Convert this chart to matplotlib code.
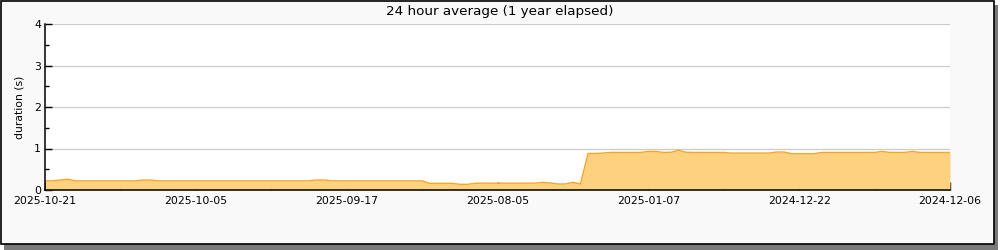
import matplotlib
matplotlib.use("Agg")
import matplotlib.pyplot as plt
from matplotlib.patches import Rectangle
from matplotlib.ticker import MultipleLocator, FixedLocator, FixedFormatter

title = "24 hour average (1 year elapsed)"
ylabel = "duration (s)"

tick_labels = ["2025-10-21", "2025-10-05", "2025-09-17", "2025-08-05",
               "2025-01-07", "2024-12-22", "2024-12-06"]

values = (
    [0.22, 0.22, 0.24, 0.26, 0.22] + [0.22] * 8 + [0.24, 0.24] + [0.22] * 21 +
    [0.24, 0.24] + [0.22] * 13 +
    [0.16, 0.16, 0.16, 0.16, 0.137, 0.137, 0.16] + [0.165] * 8 +
    [0.185, 0.17, 0.145, 0.145, 0.185, 0.145] +
    [0.88, 0.88, 0.89] + [0.905] * 5 + [0.93, 0.93, 0.905, 0.91, 0.955, 0.91] +
    [0.905] * 5 + [0.89] * 6 + [0.915, 0.915] + [0.875] * 4 + [0.905] * 8 +
    [0.93, 0.905, 0.905, 0.905, 0.93] + [0.905] * 5
)
x = list(range(len(values)))
n = len(values) - 1

fig = plt.figure(figsize=(10, 2.5), dpi=100)
fig.patch.set_facecolor("white")
# shadow and frame
fig.patches.append(Rectangle((4 / 1000, 0), 994 / 1000, 1 - 5 / 250,
                             transform=fig.transFigure, facecolor="#7a7a7a",
                             edgecolor="none", zorder=-3))
fig.patches.append(Rectangle((0.5 / 1000, 6 / 250), 993.5 / 1000, 1 - 6.5 / 250,
                             transform=fig.transFigure, facecolor="#f9f9f9",
                             edgecolor="black", linewidth=1.2, zorder=-2))

ax = fig.add_axes([0.045, 0.24, 0.905, 0.664])
ax.set_facecolor("white")
ax.fill_between(x, values, 0, color="#fdd17f", linewidth=0, zorder=2)
ax.plot(x, values, color="#f5a623", linewidth=1.0, zorder=3)

ax.set_xlim(0, n)
ax.set_ylim(0, 4)
ax.yaxis.set_major_locator(MultipleLocator(1))
ax.yaxis.set_minor_locator(MultipleLocator(0.5))
ax.grid(axis="y", which="major", color="#cccccc", linewidth=0.9, zorder=1)

positions = [i * n / 12 for i in range(13)]
labels = []
for i in range(13):
    labels.append(tick_labels[i // 2] if i % 2 == 0 else "")
ax.xaxis.set_major_locator(FixedLocator(positions))
ax.xaxis.set_major_formatter(FixedFormatter(labels))

ax.tick_params(axis="both", which="both", direction="in", labelsize=7.8,
               color="black", width=1)
ax.tick_params(axis="y", which="major", length=5, pad=3)
ax.tick_params(axis="y", which="minor", length=3)
ax.tick_params(axis="x", which="major", length=6, pad=4)

for s in ["top", "right"]:
    ax.spines[s].set_visible(False)
for s in ["left", "bottom"]:
    ax.spines[s].set_color("black")
    ax.spines[s].set_linewidth(1.1)
    ax.spines[s].set_zorder(4)

ax.set_ylabel(ylabel, fontsize=7.8, labelpad=7)
fig.text(0.5, 1 - 11 / 250, title, ha="center", va="center", fontsize=9.7)

fig.savefig("out.png", dpi=100)
